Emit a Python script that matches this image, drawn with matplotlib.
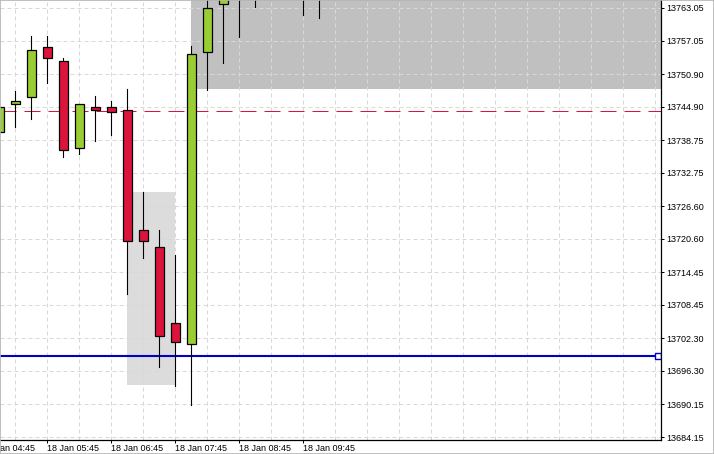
import matplotlib.pyplot as plt
from matplotlib.patches import Rectangle

plt.rcParams['font.family'] = ['Liberation Sans', 'DejaVu Sans']

# M15 bars on 18 Jan (first one sits left of the visible area)
times = ['04:45', '05:00', '05:15', '05:30', '05:45', '06:00', '06:15', '06:30',
         '06:45', '07:00', '07:15', '07:30', '07:45', '08:00', '08:15', '08:30',
         '08:45', '09:00', '09:15', '09:30', '09:45', '10:00']
opens = [13741.00, 13740.30, 13745.34, 13746.74, 13755.82, 13753.25, 13737.25, 13744.79,
         13744.79, 13744.24, 13722.17, 13719.04, 13705.06, 13701.20, 13755.01, 13763.84,
         13768.50, 13771.00, 13768.00, 13772.00, 13769.00, 13767.50]
highs = [13744.00, 13745.50, 13747.78, 13757.90, 13757.90, 13753.80, 13745.34, 13746.81,
         13745.89, 13748.10, 13729.21, 13722.22, 13717.62, 13756.06, 13766.50, 13769.00,
         13772.00, 13774.00, 13775.00, 13776.00, 13773.00, 13772.00]
lows = [13739.00, 13739.50, 13741.16, 13742.69, 13749.31, 13735.70, 13736.25, 13738.65,
        13739.75, 13710.51, 13717.13, 13697.08, 13693.59, 13690.09, 13748.02, 13752.99,
        13757.77, 13763.29, 13766.50, 13767.00, 13761.82, 13761.27]
closes = [13740.30, 13744.79, 13745.89, 13755.27, 13753.80, 13736.88, 13745.34, 13744.24,
          13743.87, 13720.14, 13720.14, 13702.67, 13701.57, 13754.53, 13763.00, 13767.20,
          13770.10, 13769.00, 13772.00, 13770.00, 13767.50, 13768.50]

price_ticks = [13763.05, 13757.05, 13750.90, 13744.90, 13738.75, 13732.75, 13726.60,
               13720.60, 13714.45, 13708.45, 13702.30, 13696.30, 13690.15, 13684.15]

# zones: (first bar, last bar, low price, high price)
demand_zone = (9, 12, 13693.71, 13729.21)
supply_zone = (13, 45, 13748.21, 13770.00)
blue_level = 13699.05
bid_level = 13744.05

fig = plt.figure(figsize=(7.14, 4.54), dpi=100)
ax = fig.add_axes([0, 14 / 454, 661 / 714, 440 / 454])

# zones
ax.add_patch(Rectangle((demand_zone[0], demand_zone[2]), demand_zone[1] - demand_zone[0],
                       demand_zone[3] - demand_zone[2], facecolor='#DCDCDC', edgecolor='none', zorder=0))
ax.add_patch(Rectangle((supply_zone[0], supply_zone[2]), supply_zone[1] - supply_zone[0],
                       supply_zone[3] - supply_zone[2], facecolor='#C0C0C0', edgecolor='none', zorder=0))

# dashed grid
for p in price_ticks:
    ax.axhline(p, color='#D8D8D8', lw=0.72, dashes=(4, 3), zorder=1)
for i in range(0, 44, 2):
    ax.axvline(i, color='#D8D8D8', lw=0.72, dashes=(4, 3), zorder=1)

# price lines
ax.axhline(bid_level, color='#DC143C', lw=0.72, dashes=(16, 8), zorder=2)
ax.plot([0, 42.19], [blue_level, blue_level], color='#0000CD', lw=1.5, zorder=2,
        marker='s', markevery=[1], ms=4, mfc='white', mec='#0000CD', mew=1)

# candles
w = 0.59
for i in range(len(times)):
    o, h, l, c = opens[i], highs[i], lows[i], closes[i]
    ax.plot([i, i], [l, h], color='black', lw=0.8, zorder=3)
    col = '#9ACD32' if c >= o else '#DC143C'
    ax.add_patch(Rectangle((i - w / 2, min(o, c)), w, max(abs(c - o), 0.05),
                           facecolor=col, edgecolor='black', lw=0.9, zorder=4))

ax.set_xlim(1.044, 42.36)
ax.set_ylim(13683.60, 13764.52)

# right price axis
ax.yaxis.tick_right()
ax.set_yticks(price_ticks)
ax.set_yticklabels(['%.2f' % p for p in price_ticks])
ax.tick_params(axis='y', length=2.2, width=0.72, pad=1.5, labelsize=6.5)
ax.set_xticks([i for i, t in enumerate(times) if t.endswith(':45') and i > 1])
ax.set_xticklabels([])
ax.tick_params(axis='x', length=2.5, width=0.72)
for i, t in enumerate(times):
    if t.endswith(':45'):
        ax.annotate('18 Jan ' + t, xy=(i, 0), xycoords=('data', 'axes fraction'),
                    xytext=(0, -2.6), textcoords='offset points', ha='left', va='top',
                    fontsize=6.5, annotation_clip=False)

for s in ['top', 'left']:
    ax.spines[s].set_visible(False)
for s in ['right', 'bottom']:
    ax.spines[s].set_linewidth(0.9)

fig.patches.append(Rectangle((0, 0), 1, 1, transform=fig.transFigure, fill=False,
                             edgecolor='#B4B4B4', lw=1.2, zorder=10))

fig.savefig('out.png', dpi=100)
